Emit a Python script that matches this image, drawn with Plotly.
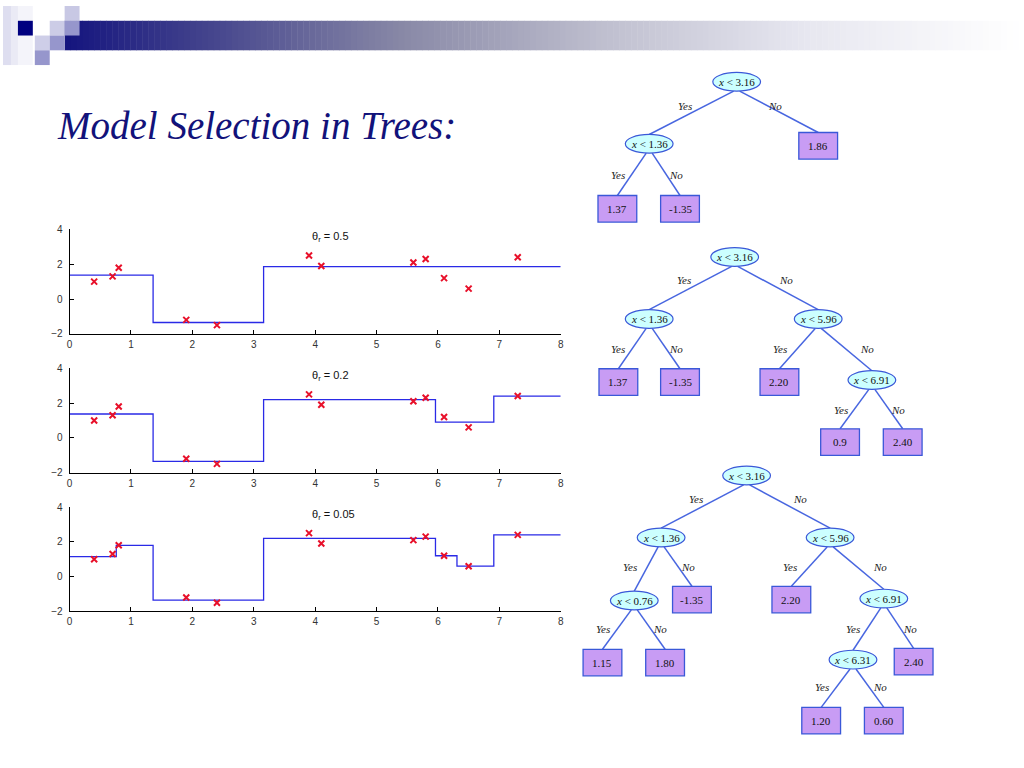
import plotly.graph_objects as go

# ---------------- data ----------------
x_obs = [0.4, 0.7, 0.8, 1.9, 2.4, 3.9, 4.1, 5.6, 5.8, 6.1, 6.5, 7.3]
y_obs = [1.0, 1.3, 1.8, -1.2, -1.5, 2.5, 1.9, 2.1, 2.3, 1.2, 0.6, 2.4]

theta_values = ["0.5", "0.2", "0.05"]

breaks_05 = [0, 1.36, 3.16, 8]
fit_05 = [1.37, -1.35, 1.86]
breaks_02 = [0, 1.36, 3.16, 5.96, 6.91, 8]
fit_02 = [1.37, -1.35, 2.20, 0.9, 2.40]
breaks_005 = [0, 0.76, 1.36, 3.16, 5.96, 6.31, 6.91, 8]
fit_005 = [1.15, 1.80, -1.35, 2.20, 1.20, 0.60, 2.40]

x_ticks = [0, 1, 2, 3, 4, 5, 6, 7, 8]
y_ticks = [-2, 0, 2, 4]

title_text = "Model Selection in Trees:"

# tree contents: (kind, label), edges: (parent, child, branch label)
tree1_nodes = [("split", "3.16"), ("split", "1.36"), ("leaf", "1.86"),
               ("leaf", "1.37"), ("leaf", "-1.35")]
tree1_edges = [(0, 1, "Yes"), (0, 2, "No"), (1, 3, "Yes"), (1, 4, "No")]

tree2_nodes = [("split", "3.16"), ("split", "1.36"), ("split", "5.96"),
               ("leaf", "1.37"), ("leaf", "-1.35"), ("leaf", "2.20"),
               ("split", "6.91"), ("leaf", "0.9"), ("leaf", "2.40")]
tree2_edges = [(0, 1, "Yes"), (0, 2, "No"), (1, 3, "Yes"), (1, 4, "No"),
               (2, 5, "Yes"), (2, 6, "No"), (6, 7, "Yes"), (6, 8, "No")]

tree3_nodes = [("split", "3.16"), ("split", "1.36"), ("split", "5.96"),
               ("split", "0.76"), ("leaf", "-1.35"), ("leaf", "2.20"),
               ("split", "6.91"), ("leaf", "1.15"), ("leaf", "1.80"),
               ("split", "6.31"), ("leaf", "2.40"), ("leaf", "1.20"),
               ("leaf", "0.60")]
tree3_edges = [(0, 1, "Yes"), (0, 2, "No"), (1, 3, "Yes"), (1, 4, "No"),
               (2, 5, "Yes"), (2, 6, "No"), (3, 7, "Yes"), (3, 8, "No"),
               (6, 9, "Yes"), (6, 10, "No"), (9, 11, "Yes"), (9, 12, "No")]

# ---------------- layout (page pixel positions) ----------------
tree1_pos = [(738, 77), (650, 140), (820, 142), (618, 206), (681, 206)]
tree1_lbl = [(686, 102), (777, 102), (619, 172), (677, 172)]

tree2_pos = [(736, 255), (650, 318), (820, 318), (619, 382), (681, 382),
             (781, 382), (874, 380), (842, 443), (905, 443)]
tree2_lbl = [(685, 278), (788, 278), (619, 348), (677, 348), (782, 348),
             (869, 348), (843, 410), (900, 410)]

tree3_pos = [(748, 477), (662, 540), (832, 540), (635, 604), (693, 603),
             (793, 603), (886, 602), (603, 667), (666, 667), (855, 664),
             (916, 666), (823, 726), (886, 726)]
tree3_lbl = [(697, 501), (802, 501), (631, 570), (689, 570), (792, 570),
             (882, 570), (604, 633), (661, 633), (855, 633), (912, 633),
             (824, 692), (882, 692)]

W, H = 1024, 768
plot_left, plot_right = 67, 561
plot_rows = [(227, 333), (368, 474), (509, 615)]

ELL_RX, ELL_RY = 24, 9.5
LEAF_HW, LEAF_HH = 19.5, 13.5

fig = go.Figure()
shapes = []
annotations = []

line_color = "#2a2ae6"
models = [(breaks_05, fit_05), (breaks_02, fit_02), (breaks_005, fit_005)]

for i, ((top, bot), (brk, fit), th) in enumerate(zip(plot_rows, models, theta_values)):
    n = "" if i == 0 else str(i + 1)
    xa, ya = "x" + n, "y" + n
    fig.add_trace(go.Scatter(
        x=brk, y=fit + [fit[-1]], mode="lines", line_shape="hv",
        line=dict(color=line_color, width=1.3), xaxis=xa, yaxis=ya,
        showlegend=False, hoverinfo="skip"))
    fig.add_trace(go.Scatter(
        x=x_obs, y=y_obs, mode="markers",
        marker=dict(symbol="x-thin", size=6, line=dict(color="#e8102a", width=2)),
        xaxis=xa, yaxis=ya, showlegend=False))
    axis_common = dict(showgrid=False, zeroline=False, showline=True,
                       linecolor="#000", linewidth=1, ticks="inside",
                       ticklen=4, tickcolor="#000", mirror=False,
                       tickfont=dict(family="Liberation Sans", size=10, color="#333"))
    fig.update_layout(**{
        "xaxis" + n: dict(domain=[plot_left / W, plot_right / W], range=[0, 8],
                          tickvals=x_ticks, anchor=ya, ticklabelstandoff=1, **axis_common),
        "yaxis" + n: dict(domain=[1 - bot / H, 1 - top / H], range=[-2, 4],
                          tickvals=y_ticks, anchor=xa, ticklabelstandoff=4,
                          **axis_common),
    })
    annotations.append(dict(
        x=3.92, y=3.55, xref=xa, yref=ya, xanchor="left", yanchor="middle",
        text="θ<sub>r</sub> = " + th, showarrow=False,
        font=dict(family="Liberation Sans", size=11, color="#111")))

# overlay axis in page pixels for diagram & decoration
fig.add_trace(go.Scatter(x=[0], y=[0], xaxis="x4", yaxis="y4", mode="markers",
                         marker=dict(size=1, opacity=0),
                         showlegend=False, hoverinfo="skip"))
fig.update_layout(
    xaxis4=dict(domain=[0, 1], range=[0, W], visible=False, fixedrange=True),
    yaxis4=dict(domain=[0, 1], range=[H, 0], visible=False, fixedrange=True),
)

def px_shape(**kw):
    kw.setdefault("xref", "x4")
    kw.setdefault("yref", "y4")
    shapes.append(kw)

# --- top decoration: gradient bar ---
stops = [(62, (20, 20, 126)), (200, (66, 66, 140)), (400, (136, 136, 166)),
         (600, (190, 190, 206)), (800, (230, 230, 239)), (1024, (255, 255, 255))]

def grad(xv):
    for (x0, c0), (x1, c1) in zip(stops[:-1], stops[1:]):
        if x0 <= xv <= x1:
            t = (xv - x0) / (x1 - x0)
            return tuple(int(round(a + (b - a) * t)) for a, b in zip(c0, c1))
    return stops[-1][1]

step = 6
xx = 62
while xx < W:
    c = grad(xx + step / 2)
    px_shape(type="rect", x0=xx, x1=min(xx + step + 0.5, W), y0=15, y1=45,
             fillcolor="rgb(%d,%d,%d)" % c, line=dict(width=0), layer="below")
    xx += step

# squares
sq = [((0, 0, 8, 60), "rgb(222,222,240)"),
      ((8, 0, 15, 60), "rgb(234,234,245)"),
      ((15, 0, 30, 15), "rgb(244,244,250)"),
      ((15, 30, 30, 60), "rgb(244,244,250)"),
      ((62, 0, 77, 15), "rgb(200,200,228)"),
      ((47, 15, 62, 30), "rgb(204,204,230)"),
      ((62, 15, 77, 30), "rgb(150,150,204)"),
      ((32, 30, 47, 45), "rgb(206,206,232)"),
      ((47, 30, 62, 45), "rgb(150,150,204)"),
      ((32, 45, 47, 60), "rgb(150,150,204)"),
      ((15, 15, 30, 30), "rgb(0,0,128)")]
for (x0, y0, x1, y1), c in sq:
    px_shape(type="rect", x0=x0, x1=x1, y0=y0, y1=y1, fillcolor=c,
             line=dict(width=0), layer="below")

# title
annotations.append(dict(
    x=52, y=121, xref="x4", yref="y4", xanchor="left", yanchor="middle",
    text="<i>" + title_text + "</i>", showarrow=False,
    font=dict(family="Liberation Serif", size=39, color="#12127a")))

# --- trees ---
edge_color = "#4866e0"
node_line = "#3a58d8"
for nodes, edges, pos, lbl in [(tree1_nodes, tree1_edges, tree1_pos, tree1_lbl),
                               (tree2_nodes, tree2_edges, tree2_pos, tree2_lbl),
                               (tree3_nodes, tree3_edges, tree3_pos, tree3_lbl)]:
    for (p, c, b), (lx, ly) in zip(edges, lbl):
        px0, py0 = pos[p]
        cx, cy = pos[c]
        sx = px0 - 3 if b == "Yes" else px0 + 3
        top = cy - (LEAF_HH if nodes[c][0] == "leaf" else ELL_RY)
        px_shape(type="line", x0=sx, y0=py0 + ELL_RY, x1=cx, y1=top,
                 line=dict(color=edge_color, width=1.5))
        annotations.append(dict(
            x=lx, y=ly, xref="x4", yref="y4", text="<i>" + b + "</i>",
            showarrow=False, font=dict(family="Liberation Serif", size=11, color="#222")))
    for (kind, label), (cx, cy) in zip(nodes, pos):
        if kind == "split":
            px_shape(type="circle", x0=cx - ELL_RX, x1=cx + ELL_RX,
                     y0=cy - ELL_RY, y1=cy + ELL_RY, fillcolor="#ccffff",
                     line=dict(color=node_line, width=1.2))
            txt = "<i>x</i> &lt; " + label
        else:
            px_shape(type="rect", x0=cx - LEAF_HW, x1=cx + LEAF_HW,
                     y0=cy - LEAF_HH, y1=cy + LEAF_HH, fillcolor="#c89cf4",
                     line=dict(color=node_line, width=1.3))
            txt = label
        annotations.append(dict(
            x=cx, y=cy, xref="x4", yref="y4", text=txt, showarrow=False,
            font=dict(family="Liberation Serif", size=11, color="#111")))

fig.update_layout(
    width=W, height=H, margin=dict(l=0, r=0, t=0, b=0),
    paper_bgcolor="white", plot_bgcolor="rgba(0,0,0,0)",
    shapes=shapes, annotations=annotations, showlegend=False,
)

fig.write_html("out.html", config={"displayModeBar": False},
               post_script="document.body.style.margin='0';")
